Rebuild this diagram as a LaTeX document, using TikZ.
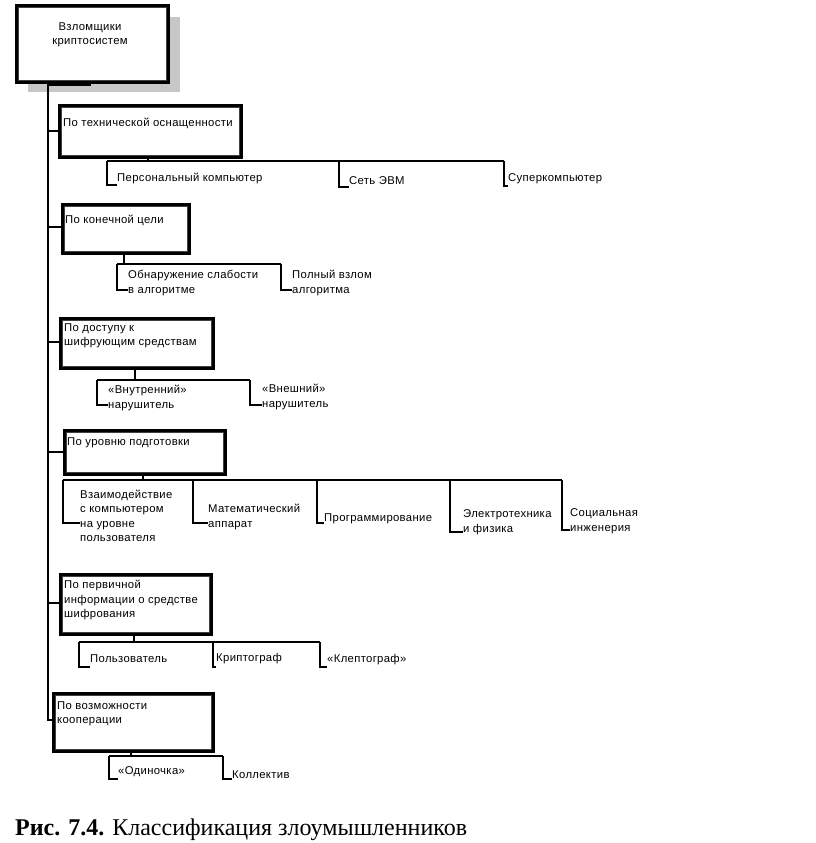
\documentclass[tikz,border=0pt]{standalone}
\usepackage{fontspec}
\setmainfont{Liberation Serif}
\newfontfamily\dg[LetterSpace=3]{Liberation Sans}
\begin{document}
\begin{tikzpicture}[x=1pt,y=-1pt,
  box/.style={draw=black, line width=3pt, fill=white, anchor=north west, inner sep=0pt},
  inbox/.style={draw=black!75, line width=0.9pt},
  lbl/.style={anchor=west, align=left, inner sep=0pt, font=\dg\fontsize{11.3}{14.5}\selectfont},
  conn/.style={line width=1.3pt, black},
]
\useasboundingbox (0,0) rectangle (816,843);
% top box with shadow
\fill[black!22] (28,17) rectangle (180,92);
\node[box, minimum width=152pt, minimum height=77pt] (top) at (15,4) {};
\draw[inbox] ([shift={(3.6,3.6)}]top.north west) rectangle ([shift={(-3.6,-3.6)}]top.south east);
\node[lbl, anchor=center, align=center] (toptext) at (90,35) {Взломщики\\криптосистем};

% category boxes
\node[box, minimum width=182pt, minimum height=52pt] (c1) at (58,104) {};
\node[box, minimum width=127pt, minimum height=49pt] (c2) at (61,203) {};
\node[box, minimum width=153pt, minimum height=50pt] (c3) at (59,317) {};
\node[box, minimum width=161pt, minimum height=44pt] (c4) at (63,429) {};
\node[box, minimum width=151pt, minimum height=60pt] (c5) at (59,573) {};
\node[box, minimum width=160pt, minimum height=58pt] (c6) at (52,692) {};
\foreach \c in {c1,c2,c3,c4,c5,c6}{
  \draw[inbox] ([shift={(3.6,3.6)}]\c.north west) rectangle ([shift={(-3.6,-3.6)}]\c.south east);
}
\node[lbl] (t1) at (63,123) {По технической оснащенности};
\node[lbl] (t2) at (65,220) {По конечной цели};
\node[lbl] (t3) at (64,336) {По доступу к\\шифрующим средствам};
\node[lbl] (t4) at (67,443) {По уровню подготовки};
\node[lbl] (t5) at (64,600) {По первичной\\информации о средстве\\шифрования};
\node[lbl] (t6) at (57,714) {По возможности\\кооперации};

% trunk
\coordinate (tk0) at (90,85);
\coordinate (tk1) at (48,85);
\coordinate (tk6) at (48,720);
\draw[conn] (top.south -| tk0) -- (tk0) -- (tk1) -- (tk6) -- (c6.west |- tk6);
\foreach \c/\y in {c1/131,c2/227,c3/342,c4/452,c5/603}{
  \draw[conn] (48,\y) -- (\c.west |- 0,\y);
}

% children texts
\node[lbl] (k11) at (117,178) {Персональный компьютер};
\node[lbl] (k12) at (349,181) {Сеть ЭВМ};
\node[lbl] (k13) at (508,179) {Суперкомпьютер};
\node[lbl] (k21) at (128,283) {Обнаружение слабости\\в алгоритме};
\node[lbl] (k22) at (292,283) {Полный взлом\\алгоритма};
\node[lbl] (k31) at (108,398) {«Внутренний»\\нарушитель};
\node[lbl] (k32) at (262,397) {«Внешний»\\нарушитель};
\node[lbl] (k41) at (80,516) {Взаимодействие\\с компьютером\\на уровне\\пользователя};
\node[lbl] (k42) at (208,517) {Математический\\аппарат};
\node[lbl] (k43) at (324,519) {Программирование};
\node[lbl] (k44) at (463,522) {Электротехника\\и физика};
\node[lbl] (k45) at (570,521) {Социальная\\инженерия};
\node[lbl] (k51) at (90,659) {Пользователь};
\node[lbl] (k52) at (216,659) {Криптограф};
\node[lbl] (k53) at (327,660) {«Клептограф»};
\node[lbl] (k61) at (118,772) {«Одиночка»};
\node[lbl] (k62) at (232,775) {Коллектив};

% group connectors: box, connector x, bus y, bus left, bus right
\foreach \c/\x/\b/\l/\r in {c1/148/161/107/504, c2/124/264/117/281, c3/135/380/97/250, c4/143/480/63/562, c5/134/642/79/320, c6/131/756/109/223}{
  \draw[conn] (\c.south -| \x,0) -- (\x,\b);
  \draw[conn] (\l,\b) -- (\r,\b);
}
% child connectors
\foreach \k/\x/\b/\y in {k11/107/161/185, k12/339/161/187, k13/504/161/186,
  k21/117/264/290, k22/281/264/290,
  k31/97/380/405, k32/250/380/405,
  k41/63/480/523, k42/193/480/523, k43/317/480/523, k44/450/480/532, k45/562/480/530,
  k51/79/642/667, k52/213/642/667, k53/320/642/667,
  k61/109/756/779, k62/223/756/779}{
  \draw[conn] (\x,\b) -- (\x,\y) -- (\k.west |- 0,\y);
}

% caption
\node[anchor=base west, inner sep=0pt, font=\fontsize{24}{28}\selectfont] (cap) at (15,835) {\textbf{Рис. 7.4.} Классификация злоумышленников};
\end{tikzpicture}
\end{document}
